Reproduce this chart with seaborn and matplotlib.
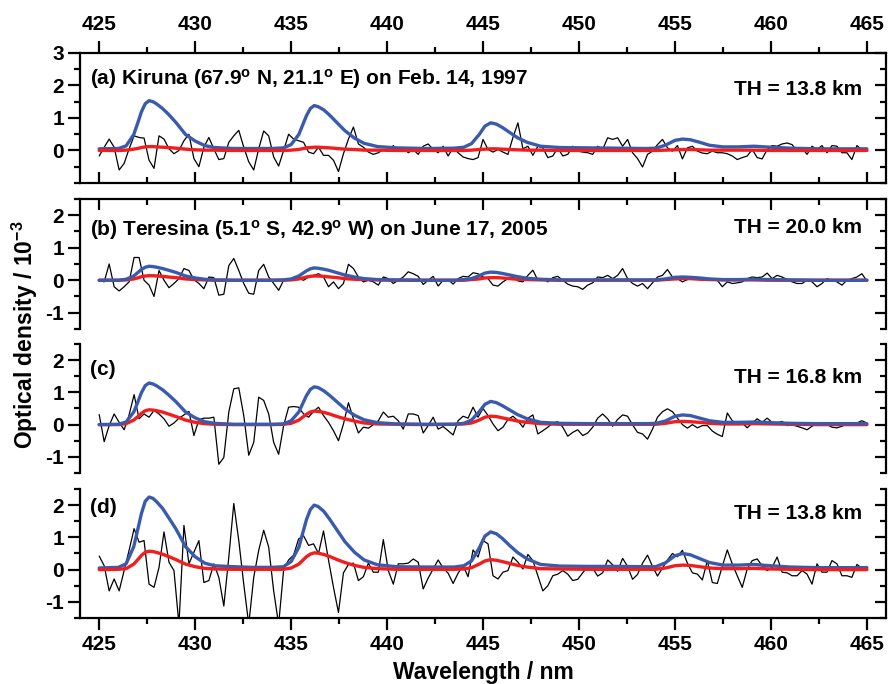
import matplotlib
matplotlib.use("Agg")
import matplotlib.pyplot as plt
from matplotlib.ticker import MultipleLocator, FixedLocator
import numpy as np
import seaborn as sns

# measured spectra (residual optical density, 1e-3), one value per detector pixel
wave = np.linspace(425, 465, 155)

od_kiruna = [
    -0.17, 0.10, 0.35, 0.10, -0.60, -0.40, 0.05, 0.45, 0.40, 0.38,
    -0.30, -0.55, 0.45, 0.35, 0.05, -0.10, 0.00, 0.30, 0.50, -0.25,
    -0.50, 0.10, 0.40, 0.05, -0.28, -0.25, 0.25, 0.45, 0.62, 0.10,
    -0.35, -0.60, 0.05, 0.60, 0.45, -0.20, -0.48, 0.00, 0.50, 0.35,
    0.30, 0.25, -0.05, -0.10, 0.10, -0.15, -0.15, -0.30, -0.65, -0.10,
    0.35, 0.72, 0.20, 0.10, -0.05, -0.12, -0.07, 0.03, -0.02, 0.15,
    -0.02, 0.08, -0.07, 0.03, -0.12, 0.13, 0.20, 0.03, -0.07, 0.13,
    -0.17, 0.08, -0.07, -0.20, -0.25, -0.28, -0.22, 0.34, 0.03, -0.05,
    0.03, -0.05, -0.12, 0.40, 0.85, 0.05, 0.13, -0.15, 0.13, 0.08,
    -0.22, -0.17, 0.08, -0.17, -0.12, 0.13, -0.02, -0.05, -0.07, -0.12,
    0.13, 0.03, 0.39, 0.34, 0.39, 0.13, 0.34, -0.07, -0.25, -0.51,
    -0.12, -0.02, 0.18, 0.34, 0.08, -0.02, 0.15, -0.26, 0.08, 0.13,
    -0.02, -0.08, -0.10, -0.02, -0.07, -0.07, -0.10, -0.17, -0.28, -0.22,
    -0.17, 0.03, -0.22, -0.26, 0.03, 0.15, 0.13, 0.20, 0.23, 0.18,
    -0.02, 0.08, -0.12, 0.13, 0.03, 0.15, -0.07, 0.15, 0.13, -0.07,
    -0.07, -0.28, 0.15, 0.03, 0.05]

od_teresina = [
    0.00, -0.05, 0.50, -0.20, -0.33, -0.20, -0.05, 0.70, 0.70, 0.00,
    -0.15, -0.50, 0.30, 0.00, -0.23, -0.10, 0.05, 0.36, 0.30, 0.02,
    -0.10, -0.26, 0.10, 0.08, -0.46, -0.43, 0.45, 0.67, 0.30, -0.10,
    -0.40, -0.43, 0.30, 0.49, 0.10, -0.10, -0.31, 0.00, 0.05, 0.00,
    0.05, 0.00, 0.10, 0.15, 0.20, 0.10, -0.20, -0.05, -0.26, -0.10,
    0.49, 0.36, 0.10, -0.05, 0.00, -0.05, -0.15, 0.10, 0.05, -0.10,
    0.00, 0.10, 0.26, 0.20, 0.12, -0.13, 0.00, 0.12, -0.18, 0.00,
    0.02, -0.12, 0.05, 0.12, 0.10, 0.23, 0.20, 0.10, 0.05, -0.15,
    -0.18, -0.05, 0.05, 0.10, -0.02, -0.05, 0.15, 0.31, 0.00, 0.05,
    -0.05, 0.08, 0.12, 0.00, -0.12, -0.18, -0.20, -0.28, -0.15, -0.08,
    0.10, 0.08, 0.15, 0.05, 0.15, 0.36, 0.05, -0.10, -0.18, -0.10,
    -0.26, -0.08, 0.10, 0.15, 0.33, 0.10, 0.05, -0.05, 0.02, 0.05,
    0.05, 0.05, 0.05, 0.05, 0.00, -0.20, -0.05, -0.10, -0.08, -0.05,
    0.05, 0.10, 0.08, 0.10, 0.22, 0.05, 0.15, 0.10, 0.02, -0.05,
    -0.10, -0.10, 0.00, -0.05, -0.20, -0.10, 0.05, 0.00, -0.05, -0.15,
    0.00, 0.05, 0.10, 0.20, -0.02]

od_c = [
    0.31, -0.53, -0.03, 0.33, 0.07, -0.16, 0.30, 0.93, 0.18, 0.33,
    0.23, 0.44, 0.33, 0.18, -0.05, 0.05, 0.20, 0.30, 0.41, -0.34,
    0.15, 0.20, 0.20, 0.23, -1.23, -1.02, 0.39, 1.11, 1.14, 0.28,
    -0.95, -0.55, 0.85, 0.75, 0.33, -0.55, -0.92, -0.03, 0.54, 0.56,
    0.54, 0.33, 0.23, 0.41, 0.54, 0.28, 0.07, -0.19, -0.50, 0.02,
    0.68, 0.18, -0.26, -0.08, -0.11, 0.00, 0.12, 0.39, 0.23, 0.26,
    0.12, -0.14, 0.33, 0.33, 0.28, -0.26, -0.03, 0.23, -0.14, -0.06,
    -0.19, -0.32, 0.12, 0.26, 0.20, 0.54, 0.23, 0.50, 0.28, 0.02,
    -0.19, -0.08, 0.16, 0.26, 0.12, -0.08, 0.20, 0.30, -0.29, -0.19,
    -0.08, 0.05, 0.09, -0.08, -0.36, -0.24, -0.16, -0.34, -0.26, -0.08,
    0.20, 0.33, 0.18, -0.05, 0.16, 0.30, 0.26, -0.01, -0.24, -0.29,
    -0.45, -0.14, 0.23, 0.40, 0.49, 0.40, 0.20, 0.00, -0.11, 0.00,
    -0.10, -0.03, -0.03, -0.20, -0.30, -0.37, 0.36, 0.12, 0.02, 0.05,
    -0.10, 0.05, 0.18, 0.07, 0.20, 0.07, 0.05, 0.10, -0.03, -0.01,
    -0.05, -0.10, -0.16, -0.05, 0.02, -0.02, 0.00, -0.08, -0.10, -0.05,
    0.02, 0.00, 0.05, 0.12, 0.05]

od_d = [
    0.42, 0.12, -0.66, -0.29, -0.66, -0.03, 0.60, 1.27, 0.85, 0.90,
    -0.45, -0.55, 0.07, 1.17, 0.23, -0.03, -1.70, 1.37, 0.18, 0.54,
    0.90, -0.40, -0.34, 0.18, -0.24, -1.13, 0.39, 2.05, 0.90, -0.45,
    -1.70, -0.24, 0.60, 1.22, 0.70, -0.66, -1.70, 0.00, 0.30, 0.45,
    0.95, 1.05, 0.75, 0.80, 0.50, 1.20, 0.30, -0.55, -1.33, -0.10,
    0.16, 0.20, -0.34, -0.22, 0.20, -0.08, -0.08, 0.93, -0.03, -0.45,
    0.18, 0.18, 0.20, 0.33, 0.23, -0.60, -0.26, 0.02, 0.30, 0.05,
    -0.11, -0.43, -0.11, 0.12, -0.22, 0.61, 0.39, 0.90, 0.80, -0.19,
    -0.29, -0.08, -0.03, 0.39, 0.23, 0.02, 0.47, 0.28, -0.19, -0.66,
    -0.50, -0.19, -0.14, -0.03, -0.14, -0.34, -0.30, -0.10, 0.10, 0.05,
    -0.20, -0.10, 0.30, 0.15, -0.05, 0.35, 0.10, -0.30, -0.15, 0.20,
    0.45, 0.10, -0.20, 0.05, 0.30, 0.50, 0.40, 0.60, 0.20, -0.10,
    -0.14, -0.32, 0.28, -0.40, -0.43, 0.10, 0.61, 0.18, -0.19, -0.55,
    0.02, 0.28, 0.33, 0.12, -0.03, 0.07, 0.39, -0.08, -0.10, -0.19,
    -0.19, -0.03, -0.14, -0.45, 0.18, -0.08, -0.08, 0.28, 0.18, -0.19,
    -0.19, -0.24, 0.16, 0.05, 0.10]

# model curves (blue / red), read on a finer grid around the bands
model_wave = [
    425.0, 426.0, 426.4, 426.8, 427.0, 427.2, 427.4, 427.6, 427.8, 428.0,
    428.3, 428.6, 429.0, 429.5, 430.0, 430.5, 431.0, 432.0, 433.0, 434.0,
    434.6, 435.0, 435.4, 435.8, 436.0, 436.2, 436.4, 436.7, 437.0, 437.4,
    437.8, 438.3, 438.8, 439.5, 440.5, 442.0, 443.5, 444.0, 444.4, 444.8,
    445.1, 445.4, 445.7, 446.0, 446.4, 446.8, 447.3, 448.0, 449.0, 450.5,
    452.0, 453.5, 454.0, 454.5, 455.0, 455.4, 455.8, 456.3, 456.8, 457.5,
    458.3, 459.1, 460.0, 461.0, 462.5, 464.0, 465.0]

blue_a = [
    0.05, 0.06, 0.14, 0.49, 0.83, 1.19, 1.44, 1.53, 1.50, 1.43,
    1.29, 1.12, 0.86, 0.49, 0.29, 0.15, 0.09, 0.06, 0.06, 0.06,
    0.08, 0.18, 0.49, 1.07, 1.29, 1.38, 1.35, 1.25, 1.09, 0.85,
    0.61, 0.38, 0.22, 0.12, 0.08, 0.06, 0.07, 0.10, 0.21, 0.49,
    0.75, 0.85, 0.81, 0.71, 0.55, 0.39, 0.25, 0.13, 0.09, 0.08,
    0.07, 0.06, 0.07, 0.16, 0.31, 0.35, 0.33, 0.25, 0.16, 0.11,
    0.11, 0.13, 0.10, 0.07, 0.05, 0.05, 0.05]
red_a = [
    0.00, 0.00, 0.01, 0.04, 0.06, 0.09, 0.11, 0.12, 0.12, 0.11,
    0.10, 0.09, 0.07, 0.04, 0.02, 0.01, 0.01, 0.00, 0.00, 0.00,
    0.00, 0.01, 0.03, 0.08, 0.09, 0.10, 0.10, 0.09, 0.08, 0.06,
    0.04, 0.03, 0.01, 0.01, 0.00, 0.00, 0.00, 0.00, 0.01, 0.03,
    0.04, 0.05, 0.05, 0.04, 0.03, 0.02, 0.01, 0.01, 0.00, 0.00,
    0.00, 0.00, 0.00, 0.01, 0.02, 0.03, 0.03, 0.02, 0.01, 0.01,
    0.01, 0.01, 0.00, 0.00, 0.00, 0.00, 0.00]
blue_b = [
    0.00, 0.00, 0.03, 0.13, 0.23, 0.33, 0.40, 0.43, 0.42, 0.40,
    0.36, 0.31, 0.24, 0.13, 0.07, 0.03, 0.01, 0.00, 0.00, 0.00,
    0.01, 0.04, 0.13, 0.29, 0.35, 0.38, 0.37, 0.34, 0.30, 0.23,
    0.16, 0.10, 0.05, 0.02, 0.01, 0.00, 0.00, 0.02, 0.05, 0.14,
    0.22, 0.25, 0.24, 0.21, 0.16, 0.11, 0.06, 0.03, 0.01, 0.01,
    0.01, 0.01, 0.01, 0.04, 0.09, 0.10, 0.09, 0.07, 0.04, 0.02,
    0.02, 0.03, 0.02, 0.01, 0.00, 0.00, 0.00]
red_b = [
    0.00, 0.00, 0.01, 0.04, 0.07, 0.11, 0.13, 0.14, 0.14, 0.13,
    0.12, 0.10, 0.08, 0.04, 0.02, 0.01, 0.00, 0.00, 0.00, 0.00,
    0.00, 0.01, 0.04, 0.10, 0.12, 0.13, 0.13, 0.12, 0.10, 0.08,
    0.05, 0.03, 0.02, 0.01, 0.00, 0.00, 0.00, 0.00, 0.02, 0.04,
    0.07, 0.08, 0.08, 0.07, 0.05, 0.03, 0.02, 0.01, 0.00, 0.00,
    0.00, 0.00, 0.00, 0.02, 0.04, 0.05, 0.05, 0.03, 0.02, 0.01,
    0.01, 0.01, 0.00, 0.00, 0.00, 0.00, 0.00]
blue_c = [
    0.00, 0.01, 0.08, 0.39, 0.68, 0.99, 1.21, 1.29, 1.26, 1.20,
    1.08, 0.93, 0.71, 0.39, 0.21, 0.09, 0.04, 0.01, 0.01, 0.01,
    0.02, 0.12, 0.39, 0.90, 1.09, 1.17, 1.15, 1.05, 0.91, 0.70,
    0.49, 0.29, 0.15, 0.06, 0.02, 0.01, 0.01, 0.04, 0.14, 0.40,
    0.63, 0.72, 0.68, 0.59, 0.45, 0.31, 0.18, 0.07, 0.04, 0.03,
    0.03, 0.03, 0.04, 0.11, 0.26, 0.30, 0.28, 0.20, 0.12, 0.07,
    0.07, 0.08, 0.06, 0.04, 0.03, 0.03, 0.03]
red_c = [
    0.00, 0.00, 0.03, 0.14, 0.24, 0.35, 0.43, 0.46, 0.45, 0.43,
    0.39, 0.33, 0.25, 0.14, 0.07, 0.03, 0.01, 0.00, 0.00, 0.00,
    0.01, 0.04, 0.14, 0.32, 0.39, 0.42, 0.41, 0.38, 0.33, 0.25,
    0.18, 0.11, 0.05, 0.02, 0.01, 0.00, 0.01, 0.02, 0.05, 0.14,
    0.23, 0.26, 0.25, 0.21, 0.16, 0.11, 0.07, 0.03, 0.01, 0.01,
    0.01, 0.01, 0.01, 0.04, 0.09, 0.10, 0.09, 0.07, 0.04, 0.02,
    0.02, 0.03, 0.02, 0.01, 0.00, 0.00, 0.00]
blue_d = [
    0.05, 0.07, 0.18, 0.71, 1.22, 1.74, 2.12, 2.25, 2.21, 2.10,
    1.90, 1.63, 1.26, 0.71, 0.40, 0.20, 0.12, 0.09, 0.07, 0.07,
    0.09, 0.25, 0.69, 1.55, 1.86, 2.00, 1.96, 1.81, 1.57, 1.22,
    0.87, 0.54, 0.30, 0.15, 0.09, 0.08, 0.08, 0.12, 0.27, 0.67,
    1.04, 1.17, 1.11, 0.97, 0.74, 0.53, 0.33, 0.16, 0.11, 0.10,
    0.10, 0.09, 0.09, 0.21, 0.43, 0.50, 0.46, 0.34, 0.22, 0.14,
    0.14, 0.16, 0.12, 0.08, 0.06, 0.06, 0.06]
red_d = [
    0.00, 0.01, 0.03, 0.17, 0.30, 0.44, 0.54, 0.57, 0.56, 0.53,
    0.48, 0.41, 0.31, 0.17, 0.09, 0.04, 0.02, 0.01, 0.01, 0.01,
    0.01, 0.05, 0.17, 0.40, 0.48, 0.52, 0.51, 0.47, 0.41, 0.31,
    0.22, 0.13, 0.07, 0.03, 0.01, 0.01, 0.01, 0.02, 0.06, 0.17,
    0.27, 0.31, 0.29, 0.25, 0.19, 0.13, 0.08, 0.03, 0.02, 0.01,
    0.01, 0.01, 0.01, 0.05, 0.12, 0.14, 0.13, 0.09, 0.05, 0.03,
    0.03, 0.04, 0.02, 0.01, 0.00, 0.00, 0.00]

titles = ["(a) Kiruna (67.9$^{o}$ N, 21.1$^{o}$ E) on Feb. 14, 1997",
          "(b) Teresina (5.1$^{o}$ S, 42.9$^{o}$ W) on June 17, 2005",
          "(c)", "(d)"]
th_labels = ["TH = 13.8 km", "TH = 20.0 km", "TH = 16.8 km", "TH = 13.8 km"]
x_major = [425, 430, 435, 440, 445, 450, 455, 460, 465]
x_minor = [427.5, 432.5, 437.5, 442.5, 447.5, 452.5, 457.5, 462.5]

sns.set_style("ticks")
plt.rcParams["font.family"] = ["Liberation Sans", "DejaVu Sans"]
plt.rcParams["font.weight"] = "bold"
plt.rcParams["mathtext.fontset"] = "custom"
plt.rcParams["mathtext.rm"] = "Liberation Sans:bold"
plt.rcParams["mathtext.it"] = "Liberation Sans:bold"
plt.rcParams["mathtext.bf"] = "Liberation Sans:bold"
plt.rcParams["mathtext.default"] = "bf"
plt.rcParams["axes.unicode_minus"] = False
for key in ["axes.edgecolor", "xtick.color", "ytick.color", "text.color", "axes.labelcolor"]:
    plt.rcParams[key] = "black"

BLUE = "#3a5aae"
RED = "#f21d1d"
LW_SPINE = 1.6
FS = 15

fig = plt.figure(figsize=(8.88, 6.84), dpi=100)

# panel boxes in figure fractions (left, bottom, width, height)
boxes = [(0.0901, 0.7325, 0.9077, 0.1901),
         (0.0901, 0.5190, 0.9077, 0.1901),
         (0.0901, 0.3085, 0.9077, 0.1886),
         (0.0901, 0.0965, 0.9077, 0.1886)]
ylims = [(-1, 3), (-1.5, 2.5), (-1.5, 2.5), (-1.5, 2.5)]
yticks = [[0, 1, 2, 3], [-1, 0, 1, 2], [-1, 0, 1, 2], [-1, 0, 1, 2]]
text_y = [0.80, 0.76, 0.80, 0.86]
th_y = [0.715, 0.78, 0.74, 0.81]

measured = [od_kiruna, od_teresina, od_c, od_d]
blues = [blue_a, blue_b, blue_c, blue_d]
reds = [red_a, red_b, red_c, red_d]
red_on_top = [True, False, False, True]

for i in range(4):
    ax = fig.add_axes(boxes[i])
    sns.lineplot(x=wave, y=measured[i], ax=ax, color="black", linewidth=0.9, zorder=2)
    z_red, z_blue = (4, 3) if red_on_top[i] else (3, 4)
    sns.lineplot(x=model_wave, y=blues[i], ax=ax, color=BLUE, linewidth=2.4, zorder=z_blue)
    sns.lineplot(x=model_wave, y=reds[i], ax=ax, color=RED, linewidth=2.4, zorder=z_red)

    ax.set_xlim(424, 466)
    ax.set_ylim(*ylims[i])
    ax.set_xlabel("")
    ax.set_ylabel("")
    ax.xaxis.set_major_locator(FixedLocator(x_major))
    ax.xaxis.set_minor_locator(FixedLocator(x_minor))
    ax.set_yticks(yticks[i])
    ax.yaxis.set_minor_locator(MultipleLocator(0.5))
    for s in ax.spines.values():
        s.set_linewidth(LW_SPINE)
    ax.spines["right"].set_visible(False)

    ax.tick_params(axis="y", which="both", direction="out", left=True, right=False,
                   labelsize=FS, width=LW_SPINE, pad=3)
    ax.tick_params(axis="y", which="major", length=8.5)
    ax.tick_params(axis="y", which="minor", length=4)

    # right-hand ticks point inward, no labels
    sy = ax.secondary_yaxis("right")
    sy.set_yticks(yticks[i])
    sy.yaxis.set_minor_locator(MultipleLocator(0.5))
    sy.tick_params(which="both", direction="in", labelright=False, width=LW_SPINE)
    sy.tick_params(which="major", length=8)
    sy.tick_params(which="minor", length=4.5)
    sy.spines["right"].set_linewidth(LW_SPINE)

    if i == 0:
        ax.spines["top"].set_visible(False)
        ax.tick_params(axis="x", which="both", direction="in", bottom=True, top=False,
                       labelbottom=False, width=LW_SPINE)
        ax.tick_params(axis="x", which="major", length=8)
        ax.tick_params(axis="x", which="minor", length=4.5)
        sx = ax.secondary_xaxis("top")
        sx.xaxis.set_major_locator(FixedLocator(x_major))
        sx.xaxis.set_minor_locator(FixedLocator(x_minor))
        sx.tick_params(which="both", direction="out", labelsize=FS, width=LW_SPINE, pad=5)
        sx.tick_params(which="major", length=8.5)
        sx.tick_params(which="minor", length=4.5)
        sx.spines["top"].set_linewidth(LW_SPINE)
    elif i == 1:
        ax.spines["bottom"].set_visible(False)
        ax.tick_params(axis="x", which="both", direction="in", bottom=False, top=True,
                       labelbottom=False, labeltop=False, width=LW_SPINE)
        ax.tick_params(axis="x", which="major", length=8)
        ax.tick_params(axis="x", which="minor", length=4.5)
    elif i == 2:
        ax.spines["bottom"].set_visible(False)
        ax.spines["top"].set_visible(False)
        ax.tick_params(axis="x", which="both", bottom=False, top=False, labelbottom=False)
    else:
        ax.spines["top"].set_visible(False)
        ax.tick_params(axis="x", which="both", direction="out", bottom=True, top=False,
                       labelbottom=True, labelsize=FS, width=LW_SPINE, pad=4)
        ax.tick_params(axis="x", which="major", length=8.5)
        ax.tick_params(axis="x", which="minor", length=4.5)

    ax.text(0.012, text_y[i], titles[i], transform=ax.transAxes, ha="left", va="center",
            fontsize=FS, fontweight="bold")
    ax.text(0.970, th_y[i], th_labels[i], transform=ax.transAxes, ha="right", va="center",
            fontsize=FS, fontweight="bold")

fig.text(0.028, 0.51, "Optical density / 10$^{-3}$", rotation=90, ha="center", va="center",
         fontsize=16.5, fontweight="bold")
fig.text(0.544, 0.017, "Wavelength / nm", ha="center", va="center",
         fontsize=16.5, fontweight="bold")

fig.savefig("out.png", dpi=100)
